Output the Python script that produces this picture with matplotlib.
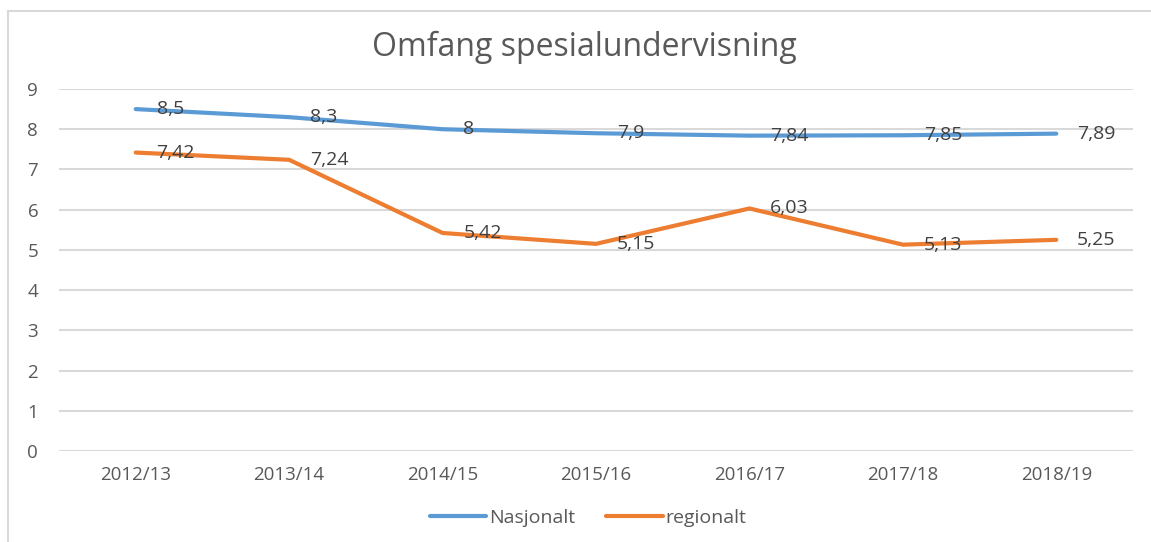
import matplotlib
matplotlib.use("Agg")
import matplotlib.pyplot as plt
from matplotlib.lines import Line2D

# data
years = ["2012/13", "2013/14", "2014/15", "2015/16", "2016/17", "2017/18", "2018/19"]
nasjonalt = [8.5, 8.3, 8.0, 7.9, 7.84, 7.85, 7.89]
regionalt = [7.42, 7.24, 5.42, 5.15, 6.03, 5.13, 5.25]
nasjonalt_labels = ["8,5", "8,3", "8", "7,9", "7,84", "7,85", "7,89"]
regionalt_labels = ["7,42", "7,24", "5,42", "5,15", "6,03", "5,13", "5,25"]

blue = "#5B9BD5"
orange = "#ED7D31"
txt = "#595959"
grid = "#D9D9D9"

plt.rcParams["font.family"] = ["Open Sans", "DejaVu Sans"]

W, H = 1151, 542
fig = plt.figure(figsize=(W / 100, H / 100), dpi=100)

# chart frame (left and top edges visible in reference)
fig.add_artist(Line2D([8 / W, 8 / W], [0, 1 - 11 / H], transform=fig.transFigure,
                      color=grid, lw=1.5))
fig.add_artist(Line2D([8 / W, 1], [1 - 11 / H, 1 - 11 / H], transform=fig.transFigure,
                      color=grid, lw=1.5))

ax = fig.add_axes([59 / W, 91 / H, (1133 - 59) / W, (451 - 89) / H])
x = list(range(len(years)))

ax.plot(x, nasjonalt, color=blue, lw=3, solid_capstyle="round", label="Nasjonalt", zorder=3)
ax.plot(x, regionalt, color=orange, lw=3, solid_capstyle="round", label="regionalt", zorder=3)

for xi, v, s in zip(x, nasjonalt, nasjonalt_labels):
    ax.annotate(s, (xi, v), xytext=(15, 0), textcoords="offset points",
                ha="left", va="center", fontsize=14, color="#404040", zorder=4)
for xi, v, s in zip(x, regionalt, regionalt_labels):
    ax.annotate(s, (xi, v), xytext=(15, 0), textcoords="offset points",
                ha="left", va="center", fontsize=14, color="#404040", zorder=4)

ax.set_xlim(-0.5, len(years) - 0.5)
ax.set_ylim(0, 9)
ax.set_yticks(range(0, 10))
ax.set_xticks(x)
ax.set_xticklabels(years)
ax.tick_params(axis="both", length=0, labelsize=13.5, labelcolor=txt)
ax.tick_params(axis="x", pad=11)
ax.tick_params(axis="y", pad=15)
ax.yaxis.grid(True, color=grid, lw=1.5)
ax.set_axisbelow(True)
for sp in ax.spines.values():
    sp.set_visible(False)

fig.text(584 / W, 1 - 47 / H, "Omfang spesialundervisning", ha="center", va="center",
         fontsize=23, color=txt)

leg = fig.legend(loc="center", bbox_to_anchor=(588 / W, 1 - 518 / H), ncol=2, frameon=False,
                 fontsize=14, labelcolor=txt, handlelength=2.9, handletextpad=0.15,
                 columnspacing=1.6)
for h in leg.get_lines():
    h.set_solid_capstyle("round")

fig.savefig("out.png", dpi=100)
